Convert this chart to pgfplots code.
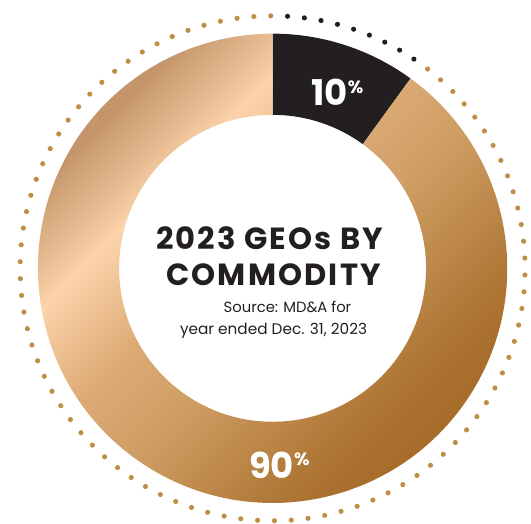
\documentclass[border=0pt]{standalone}
\usepackage{pgfplots}
\pgfplotsset{compat=1.18}
\usepackage{pgfplotstable}
\usepackage{fontspec}
\setmainfont{Poppins}
\usetikzlibrary{calc}
\definecolor{darkseg}{HTML}{231F20}
\definecolor{dotgold}{HTML}{BF8E45}
\definecolor{g1}{HTML}{C4956A}
\definecolor{g2}{HTML}{FCD3AA}
\definecolor{g3}{HTML}{DCAA75}
\definecolor{g4}{HTML}{CF9E64}
\definecolor{g5}{HTML}{AC7331}
\definecolor{g6}{HTML}{A66C28}
\pgfdeclarehorizontalshading{goldgrad}{800bp}{color(0bp)=(g1); color(173bp)=(g1); color(265bp)=(g2); color(357bp)=(g3); color(435bp)=(g4); color(583bp)=(g5); color(637bp)=(g6); color(800bp)=(g6)}
\pgfplotstableread{
segment share
first 10
second 90
}\sharetable
\begin{document}
\pgfplotstablegetelem{0}{share}\of\sharetable\let\shareA\pgfplotsretval
\pgfplotstablegetelem{1}{share}\of\sharetable\let\shareB\pgfplotsretval
\pgfmathsetmacro{\angA}{90-3.6*\shareA}
\pgfmathsetmacro{\angB}{\angA-3.6*\shareB}
\begin{tikzpicture}
\begin{axis}[width=531bp, height=529bp, scale only axis,
  xmin=0, xmax=531, ymin=0, ymax=529, hide axis, clip=false]
\path (axis cs:0,0) rectangle (axis cs:531,529);
\coordinate (c) at (axis cs:270,258);
% dotted outer ring
\draw[overlay, dotgold, line width=5.2bp, line cap=round, dash pattern=on 0bp off 17.045bp]
  ($(c)+(90.43:255bp)$) arc[start angle=90.43, end angle=412.5, radius=255bp];
\draw[overlay, darkseg, line width=5.2bp, line cap=round, dash pattern=on 0bp off 17.045bp]
  ($(c)+(86.6:255bp)$) arc[start angle=86.6, end angle=55.0, radius=255bp];
% first segment
\fill[overlay, darkseg] ($(c)+(90:237bp)$) arc[start angle=90, end angle=\angA, radius=237bp]
  -- ($(c)+(\angA:155bp)$) arc[start angle=\angA, end angle=90, radius=155bp] -- cycle;
% second segment with gradient
\begin{scope}[overlay]
\clip ($(c)+(\angA:237bp)$) arc[start angle=\angA, end angle=\angB, radius=237bp]
  -- ($(c)+(\angB:155bp)$) arc[start angle=\angB, end angle=\angA, radius=155bp] -- cycle;
\node[rotate=-45, inner sep=0pt] at (c) {\pgfuseshading{goldgrad}};
\end{scope}
% labels
\node[anchor=base west, inner sep=0pt, text=white, font=\bfseries\fontsize{36}{36}\selectfont]
  at (axis cs:309,422) {10\raisebox{12.5bp}{\fontsize{18}{18}\selectfont\%}};
\node[anchor=base west, inner sep=0pt, text=white, font=\bfseries\fontsize{36}{36}\selectfont]
  at (axis cs:246,46) {90\raisebox{12.5bp}{\fontsize{18}{18}\selectfont\%}};
\node[anchor=base, inner sep=0pt, text=darkseg, font=\bfseries\fontsize{31}{33}\selectfont\addfontfeatures{LetterSpace=7}]
  at (axis cs:267,277) {2023 GEOs BY};
\node[anchor=base, inner sep=0pt, text=darkseg, font=\bfseries\fontsize{31}{33}\selectfont\addfontfeatures{LetterSpace=7}]
  at (axis cs:271,241) {COMMODITY};
\node[anchor=base, inner sep=0pt, text=darkseg, font=\fontsize{15}{18}\selectfont]
  at (axis cs:285,213) {Source: MD\&A for};
\node[anchor=base, inner sep=0pt, text=darkseg, font=\fontsize{15.5}{18}\selectfont]
  at (axis cs:271,191) {year ended Dec. 31, 2023};
\end{axis}
\end{tikzpicture}
\end{document}
